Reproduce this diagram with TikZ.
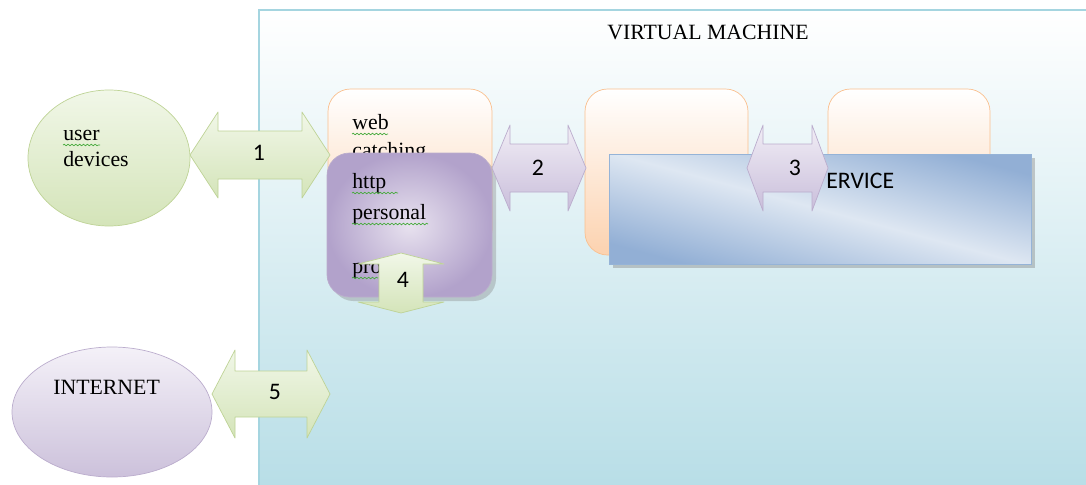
\documentclass[tikz,border=0pt]{standalone}
\usepackage{fontspec}
\setmainfont{Liberation Serif}
\newfontfamily\calfont{Carlito}
\usetikzlibrary{shadows,decorations.pathmorphing}

\definecolor{vmline}{RGB}{165,213,224}
\definecolor{vmbot}{RGB}{182,221,230}
\definecolor{grline}{RGB}{190,211,150}
\definecolor{grtop}{RGB}{241,247,232}
\definecolor{grbot}{RGB}{212,228,185}
\definecolor{orline}{RGB}{250,192,143}
\definecolor{orbot}{RGB}{252,210,175}
\definecolor{puline}{RGB}{170,152,192}
\definecolor{pudark}{RGB}{178,162,203}
\definecolor{pulight}{RGB}{232,226,239}
\definecolor{lvtop}{RGB}{244,241,248}
\definecolor{lvbot}{RGB}{204,193,219}
\definecolor{bline}{RGB}{149,179,215}
\definecolor{bdark}{RGB}{146,175,213}
\definecolor{blight}{RGB}{222,231,242}
\definecolor{spell}{RGB}{70,170,60}

% double fleche horizontale : [style] gauche, droite, y, pointe, demi-tige, demi-tete
\newcommand{\hdarrow}[7][]{%
  \draw[#1] (#2,#4) -- ++(#5,-#7) -- ++(0,#7-#6) -- (#3-#5,#4-#6) -- ++(0,#6-#7) -- (#3,#4)
    -- ++(-#5,#7) -- ++(0,#6-#7) -- (#2+#5,#4+#6) -- ++(0,#7-#6) -- cycle;}
% double fleche verticale : [style] haut, bas, x, pointe, demi-tige, demi-tete
\newcommand{\vdarrow}[7][]{%
  \draw[#1] (#4,#2) -- ++(#7,#5) -- ++(#6-#7,0) -- (#4+#6,#3-#5) -- ++(#7-#6,0) -- (#4,#3)
    -- ++(-#7,-#5) -- ++(#7-#6,0) -- (#4-#6,#2+#5) -- ++(#6-#7,0) -- cycle;}

\begin{document}
\begin{tikzpicture}[x=0.02cm, y=-0.02cm,
    txt/.style={font=\fontsize{12.4}{15}\selectfont, inner sep=0pt, anchor=base west},
    num/.style={font=\calfont\fontsize{13.5}{16}\selectfont, inner sep=0pt},
    greenarrow/.style={draw=grline, top color=grtop, bottom color=grbot, line join=round},
    purplearrow/.style={draw=puline!80, top color=pulight!60!white, bottom color=pudark!70!white, line join=round},
    orangebox/.style={draw=orline, top color=white, bottom color=orbot, rounded corners=0.45cm},
    wavy/.style={spell, decorate, decoration={snake, amplitude=0.45pt, segment length=2.2pt}}]
    \def \r {0.45cm}; % rayon des coins
    \useasboundingbox (0,0) rectangle (1086,484);
    % machine virtuelle
    \draw[vmline, thick, top color=white, bottom color=vmbot] (259,10) rectangle (1100,500);
    \node[txt] (vm) at (607,39) {VIRTUAL MACHINE};
    % boites orange
    \draw[orangebox] (328,89) rectangle (492,252);
    \draw[orangebox] (585,89) rectangle (748,255);
    \draw[orangebox] (828,89) rectangle (990,252);
    \node[txt] (web) at (352,129) {web};
    \node[txt] (catch) at (352,157) {catching};
    \draw[wavy] (352,134) -- (388,134);
    \hdarrow[greenarrow]{190}{330}{155}{28}{24}{43}
    \node[num] (n1) at (259,153) {1};
    % boite http
    \draw[draw=puline!80, drop shadow={opacity=0.35}, inner color=pulight, outer color=pudark,
          rounded corners=\r] (327,153) rectangle (492,297);
    \node[txt] (http) at (352,188) {http};
    \node[txt] (pers) at (352,219) {personal};
    \node[txt] (prox) at (352,273) {pro};
    \draw[wavy] (352,193) -- (398,193);
    \draw[wavy] (352,224) -- (428,224);
    \draw[wavy] (352,278) -- (378,278);
    \hdarrow[purplearrow]{492}{586}{168}{18}{24}{43}
    \node[num] (n2) at (538,168) {2};
    % service
    \draw[draw=bline, drop shadow={opacity=0.4, shadow xshift=2pt, shadow yshift=-2pt},
          top color=bdark, bottom color=bdark, middle color=blight, shading angle=-15]
          (609,154) rectangle (1031,264);
    \node[num, anchor=base west] (svc) at (826,188) {ERVICE};
    \hdarrow[purplearrow]{747}{828}{168}{16}{24}{43}
    \node[num] (n3) at (795,168) {3};
    \vdarrow[greenarrow]{253}{313}{401}{11}{22}{43}
    \node[num] (n4) at (403,280) {4};
    % utilisateurs et internet
    \draw[greenarrow] (109,158) ellipse [x radius=81, y radius=68];
    \node[txt] (user) at (63,140) {user};
    \node[txt] (dev) at (63,166) {devices};
    \draw[wavy] (63,145) -- (100,145);
    \hdarrow[greenarrow]{212}{330}{394}{23}{23}{44}
    \node[num] (n5) at (275,392) {5};
    \draw[draw=puline!80, top color=lvtop, bottom color=lvbot] (112,412) ellipse [x radius=100, y radius=65];
    \node[txt] (inet) at (53,394) {INTERNET};
\end{tikzpicture}
\end{document}
